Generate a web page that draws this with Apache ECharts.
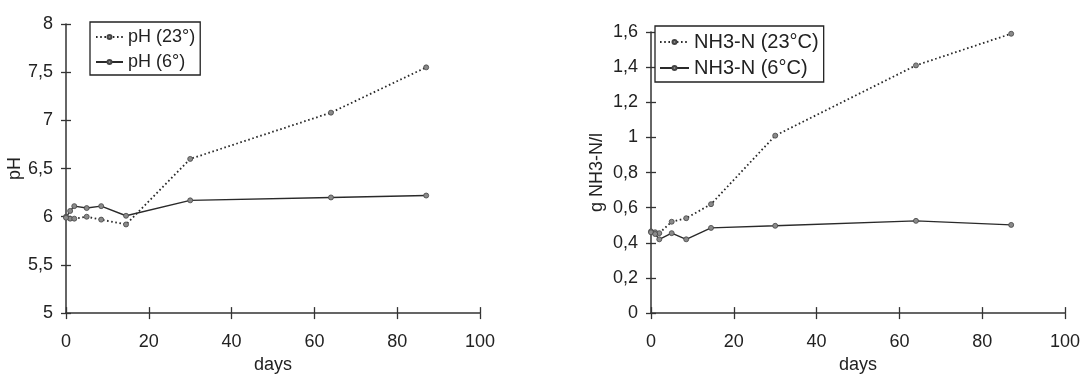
<!DOCTYPE html>
<html>
<head>
<meta charset="utf-8">
<script src="https://cdn.jsdelivr.net/npm/echarts@6/dist/echarts.min.js"></script>
<style>
html,body{margin:0;padding:0;background:#fff;}
#c{width:1084px;height:379px;}
</style>
</head>
<body>
<div id="c"></div>
<script>
// ---- data ----
const days = [0, 1, 2, 5, 8.5, 14.5, 30, 64, 87];
const pH23 = [6.0, 5.98, 5.98, 6.0, 5.97, 5.92, 6.6, 7.08, 7.55];
const pH6  = [5.99, 6.06, 6.11, 6.09, 6.11, 6.01, 6.17, 6.2, 6.22];
const nh23 = [0.465, 0.46, 0.455, 0.52, 0.54, 0.62, 1.01, 1.41, 1.59];
const nh6  = [0.46, 0.45, 0.42, 0.455, 0.42, 0.485, 0.497, 0.525, 0.502];
const namePH23 = 'pH (23°)';
const namePH6 = 'pH (6°)';
const nameNH23 = 'NH3-N (23°C)';
const nameNH6 = 'NH3-N (6°C)';

const FONT = '"Liberation Sans", Arial, sans-serif';
const INK = '#222';
const comma = v => String(+v.toFixed(2)).replace('.', ',');
const pair = arr => days.map((d, i) => [d, arr[i]]);

function xAx(grid, main) {
  return {
    type: 'value', gridIndex: grid, position: 'bottom', min: 0, max: 100, interval: 20,
    name: main ? 'days' : '', nameLocation: 'middle', nameGap: 36,
    nameTextStyle: {fontFamily: FONT, fontSize: 18, color: INK},
    axisLine: {show: main, onZero: false, lineStyle: {color: '#333', width: 1.5}},
    axisTick: {show: true, inside: !main, length: 6, lineStyle: {color: '#333', width: 1.3}},
    axisLabel: {show: main, margin: 20, fontFamily: FONT, fontSize: 18, color: INK},
    splitLine: {show: false}
  };
}
function yAx(grid, main, min, max, interval, name, gap) {
  return {
    type: 'value', gridIndex: grid, position: 'left', min, max, interval,
    name: main ? name : '', nameLocation: 'middle', nameGap: gap,
    nameTextStyle: {fontFamily: FONT, fontSize: 18, color: INK},
    axisLine: {show: main, onZero: false, lineStyle: {color: '#333', width: 1.5}},
    axisTick: {show: true, inside: !main, length: 5, lineStyle: {color: '#333', width: 1.3}},
    axisLabel: {show: main, margin: 13, fontFamily: FONT, fontSize: 18, color: INK, formatter: comma},
    splitLine: {show: false}
  };
}
function ser(name, arr, xi, yi, dotted) {
  return {
    name, type: 'line', xAxisIndex: xi, yAxisIndex: yi, data: pair(arr),
    symbol: 'circle', symbolSize: 5, showSymbol: true,
    lineStyle: {color: '#2a2a2a', width: dotted ? 1.8 : 1.4, type: dotted ? [1.6, 2.6] : 'solid'},
    itemStyle: {color: '#8a8a8a', borderColor: '#444', borderWidth: 0.8},
    animation: false, z: 3
  };
}

const chart = echarts.init(document.getElementById('c'), null, {renderer: 'canvas'});
chart.setOption({
  backgroundColor: '#fff',
  animation: false,
  grid: [
    {left: 66, width: 414, top: 24, height: 294},
    {left: 651, width: 414, top: 32, height: 286}
  ],
  xAxis: [xAx(0, true), xAx(0, false), xAx(1, true), xAx(1, false)],
  yAxis: [
    yAx(0, true, 5, 8, 0.5, 'pH', 39),
    yAx(0, false, 5, 8, 0.5, '', 0),
    yAx(1, true, 0, 1.6, 0.2, 'g NH3-N/l', 45),
    yAx(1, false, 0, 1.6, 0.2, '', 0)
  ],
  legend: [
    {
      data: [namePH23, namePH6], orient: 'vertical', left: 90, top: 22,
      backgroundColor: '#fff',
      borderColor: '#222', borderWidth: 1.3, borderRadius: 0,
      padding: [6, 5, 4, 5], itemGap: 7, itemWidth: 27, itemHeight: 5,
      textStyle: {fontFamily: FONT, fontSize: 18, color: INK}
    },
    {
      data: [nameNH23, nameNH6], orient: 'vertical', left: 655, top: 26,
      backgroundColor: '#fff',
      borderColor: '#222', borderWidth: 1.3, borderRadius: 0,
      padding: [6, 5, 4, 4], itemGap: 6, itemWidth: 29, itemHeight: 5,
      textStyle: {fontFamily: FONT, fontSize: 20, color: INK}
    }
  ],
  series: [
    ser(namePH23, pH23, 0, 0, true),
    ser(namePH6, pH6, 0, 0, false),
    ser(nameNH23, nh23, 2, 2, true),
    ser(nameNH6, nh6, 2, 2, false)
  ]
});
</script>
</body>
</html>
